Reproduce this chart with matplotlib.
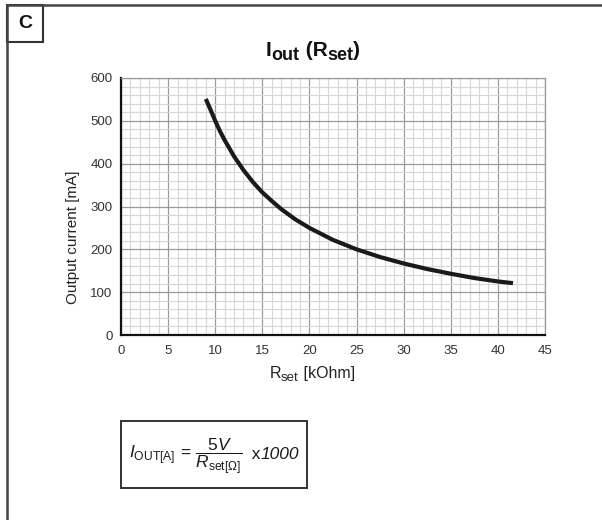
import matplotlib
matplotlib.use("Agg")
import matplotlib.pyplot as plt
from matplotlib.transforms import IdentityTransform
from matplotlib.patches import Rectangle
from matplotlib.lines import Line2D

plt.rcParams["font.family"] = ["Liberation Sans", "DejaVu Sans"]
plt.rcParams["mathtext.fontset"] = "custom"
plt.rcParams["mathtext.rm"] = "Liberation Sans"
plt.rcParams["mathtext.it"] = "Liberation Sans:italic"
plt.rcParams["mathtext.bf"] = "Liberation Sans:bold"

# Curve (R_set in kOhm, I_out in mA)
r_set = [9.0, 9.5, 10, 10.5, 11, 12, 13, 14, 15, 16, 17, 18.5, 20, 22.5, 25,
         27.5, 30, 32.5, 35, 37.5, 40, 41.6]
i_out = [551, 526, 500, 476, 455, 417, 385, 357, 333, 313, 294, 270, 250, 222,
         200, 182, 167, 154, 143, 133, 125, 121]

x_ticks = [0, 5, 10, 15, 20, 25, 30, 35, 40, 45]
y_ticks = [0, 100, 200, 300, 400, 500, 600]

W, H = 602, 520
fig = plt.figure(figsize=(W / 100, H / 100), dpi=100)
PX = IdentityTransform()

# axes placed in pixel box: x 121..545, y 78..335 (from top)
ax = fig.add_axes([121 / W, 1 - 335 / H, (545 - 121) / W, (335 - 78) / H])
ax.set_xlim(0, 45)
ax.set_ylim(0, 600)
ax.set_xticks(x_ticks)
ax.set_yticks(y_ticks)
ax.set_xticks(range(0, 46), minor=True)
ax.set_yticks(range(0, 601, 20), minor=True)
ax.grid(which="minor", color="#d6d6d6", linewidth=0.8)
ax.grid(which="major", color="#9a9a9a", linewidth=0.9)
ax.set_axisbelow(True)
ax.tick_params(which="both", length=0, labelsize=9.5, labelcolor="#333333")
ax.tick_params(axis="x", pad=7)
ax.tick_params(axis="y", pad=6)
for s in ["top", "right"]:
    ax.spines[s].set_color("#9a9a9a")
    ax.spines[s].set_linewidth(0.9)
for s in ["left", "bottom"]:
    ax.spines[s].set_color("#111111")
    ax.spines[s].set_linewidth(1.6)

ax.plot(r_set, i_out, color="#1a1a1a", linewidth=3, solid_capstyle="butt",
        solid_joinstyle="round")

renderer = fig.canvas.get_renderer()


def pieces(parts, xc, y_base, **kw):
    # draw a row of text pieces (text, size, dy[, extra kwargs]) centred at xc
    objs = []
    for p in parts:
        txt, size, dy = p[:3]
        extra = dict(kw)
        if len(p) > 3:
            extra.update(p[3])
        t = fig.text(0, 0, txt, fontsize=size, transform=PX, ha="left",
                     va="baseline", **extra)
        objs.append((t, dy))
    widths = [t.get_window_extent(renderer).width for t, _ in objs]
    x = xc - sum(widths) / 2
    for (t, dy), w in zip(objs, widths):
        t.set_position((x, H - y_base - dy))
        x += w


# title
pieces([("I", 15, 0), ("out", 13, 4), (" (R", 15, 0), ("set", 13, 4), (")", 15, 0)],
       313, 56, fontweight="bold", color="#111111")

# x label
pieces([("R", 11.5, 0), ("set", 9.5, 3), (" [kOhm]", 11.5, 0)],
       312, 378, color="#222222")

# y label
fig.text(73, H - 237, "Output current [mA]", transform=PX, rotation=90,
         ha="center", va="center", fontsize=11, color="#222222")

# frame lines and panel tag
fig.add_artist(Line2D([6.5, 6.5], [0, H - 5], transform=PX, color="#444444", lw=1.8))
fig.add_artist(Line2D([6.5, W], [H - 5, H - 5], transform=PX, color="#444444", lw=1.8))
fig.add_artist(Rectangle((7, H - 42), 36, 37, transform=PX, fill=False,
                         edgecolor="#333333", lw=1.5))
fig.text(25, H - 23.5, "C", transform=PX, ha="center", va="center",
         fontsize=14, fontweight="bold", color="#111111")

# formula box
fig.add_artist(Rectangle((121, H - 488), 186, 67, transform=PX, fill=False,
                         edgecolor="#333333", lw=1.4))
pieces([(r"$I_{\mathrm{OUT[A]}}\,=\,\dfrac{\mathit{5V}}{R_{\mathrm{set[\Omega]}}}$", 12.5, 0),
        ("  x", 12.5, 0),
        ("1000", 12.5, 0, {"style": "italic"})],
       214, 459, color="#1a1a1a")

fig.savefig("out.png", dpi=100)
